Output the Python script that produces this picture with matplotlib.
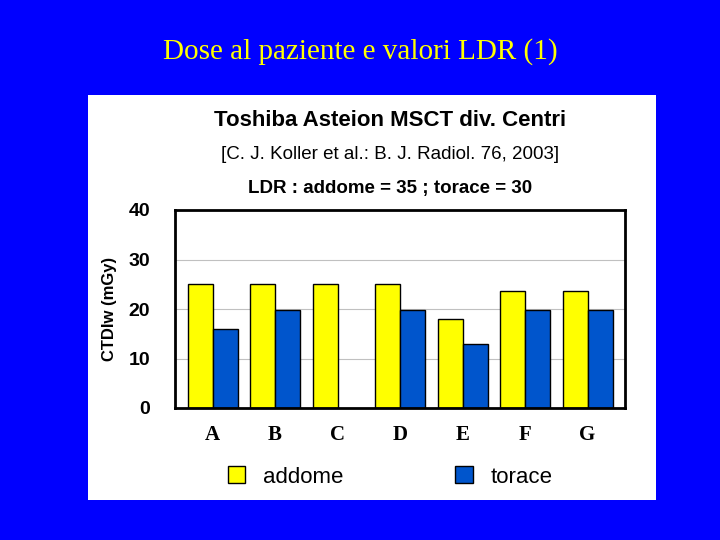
import matplotlib
matplotlib.use("Agg")
import matplotlib.pyplot as plt
import numpy as np
from matplotlib.patches import Rectangle

categories = ["A", "B", "C", "D", "E", "F", "G"]
addome = [25, 25, 25, 25, 18, 23.7, 23.7]
torace = [16, 19.7, np.nan, 19.7, 13, 19.7, 19.7]
yticks = [0, 10, 20, 30, 40]

W, H = 720, 540
fig = plt.figure(figsize=(7.2, 5.4), dpi=100)
fig.patch.set_facecolor("#0000FF")

fig.text(360/W, 1-52/H, "Dose al paziente e valori LDR (1)", ha="center", va="center",
         color="#FFFF00", fontsize=21, family="Liberation Serif")

fig.patches.append(Rectangle((88/W, 1-500/H), (656-88)/W, (500-95)/H,
                             transform=fig.transFigure, facecolor="white", edgecolor="none", zorder=-5))

fig.text(390/W, 1-121/H, "Toshiba Asteion MSCT div. Centri", ha="center", va="center",
         fontsize=16, fontweight="bold", family="Liberation Sans")
fig.text(390/W, 1-155/H, "[C. J. Koller et al.: B. J. Radiol. 76, 2003]", ha="center", va="center",
         fontsize=13.5, family="Liberation Sans")
fig.text(390/W, 1-188/H, "LDR : addome = 35 ; torace = 30", ha="center", va="center",
         fontsize=13.5, fontweight="bold", family="Liberation Sans")

ax = fig.add_axes([175/W, 1-408/H, (625-175)/W, (408-210)/H])
ax.set_zorder(2)
x = np.arange(len(categories))
w = 0.4
ax.bar(x - w/2, addome, w, color="#FFFF00", edgecolor="black", linewidth=1, label="addome")
ax.bar(x + w/2, torace, w, color="#0055CC", edgecolor="black", linewidth=1, label="torace")
ax.set_ylim(0, 40)
ax.set_xlim(-0.6, 6.6)
ax.set_yticks(yticks)
ax.set_yticklabels([str(v) for v in yticks], fontsize=14, fontweight="bold", family="Liberation Sans")
ax.yaxis.grid(True, color="#c0c0c0", linewidth=0.8)
ax.set_axisbelow(True)
ax.tick_params(axis="y", length=0, pad=18)
ax.set_xticks(x)
ax.set_xticklabels(categories, fontsize=15, fontweight="bold", family="Liberation Serif")
ax.tick_params(axis="x", length=0, pad=12)
for s in ax.spines.values():
    s.set_linewidth(2)
ax.set_ylabel("CTDIw (mGy)", fontsize=12, fontweight="bold", family="Liberation Sans", labelpad=8)

leg = fig.legend(loc="center", bbox_to_anchor=(390/W, 1-477/H), ncol=2, frameon=False,
                 prop={"family": "Liberation Sans", "size": 16}, columnspacing=5,
                 handlelength=0.8, handleheight=0.8)
leg.set_zorder(3)

fig.savefig("out.png", dpi=100, facecolor=fig.get_facecolor())
